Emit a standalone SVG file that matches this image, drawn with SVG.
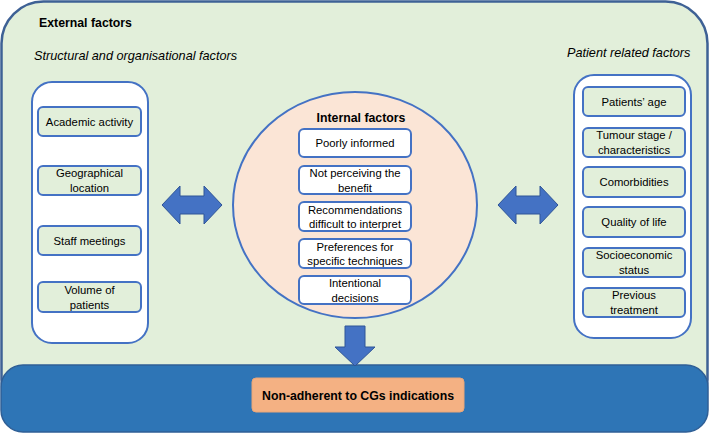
<svg xmlns="http://www.w3.org/2000/svg" width="710" height="434" viewBox="0 0 710 434">
<style>
  text { font-family: "Liberation Sans", Arial, sans-serif; fill: #000; }
  .h { font-weight: bold; font-size: 12.3px; }
  .it { font-style: italic; font-size: 12.7px; }
  .t { font-size: 11.3px; text-anchor: middle; }
  .panel { fill: #ffffff; stroke: #4472c4; stroke-width: 2; }
  .gbox { fill: #e2efda; stroke: #4472c4; stroke-width: 2; }
  .wbox { fill: #ffffff; stroke: #4472c4; stroke-width: 2; }
  .arrow { fill: #4472c4; stroke: #2f5597; stroke-width: 1; }
</style>

<g id="external">
  <rect x="1.5" y="1.5" width="706" height="420" rx="42" fill="#e2efda" stroke="#3e6195" stroke-width="2.5"/>
  <text class="h" x="39" y="27">External factors</text>
  <text class="it" x="34" y="60">Structural and organisational factors</text>
  <text class="it" x="567" y="57">Patient related factors</text>
</g>

<g id="outcome">
  <rect x="1" y="365" width="707" height="67" rx="22" fill="#2e75b6" stroke="#2f5f96" stroke-width="1.5"/>
  <rect x="252" y="378" width="212" height="34" rx="4" fill="#f4b183" stroke="#e9a678" stroke-width="1"/>
  <text class="h" x="358" y="399.5" text-anchor="middle">Non-adherent to CGs indications</text>
</g>

<g id="structural">
  <rect class="panel" x="32" y="82" width="116" height="261" rx="20"/>
  <g id="s1"><rect class="gbox" x="38" y="107" width="103" height="29" rx="5"/><text class="t" x="89.5" y="125.5">Academic activity</text></g>
  <g id="s2"><rect class="gbox" x="38" y="166" width="103" height="29" rx="5"/><text class="t" x="89.5" y="177">Geographical</text><text class="t" x="89.5" y="192">location</text></g>
  <g id="s3"><rect class="gbox" x="38" y="226" width="103" height="29" rx="5"/><text class="t" x="89.5" y="244.5">Staff meetings</text></g>
  <g id="s4"><rect class="gbox" x="38" y="282" width="103" height="30" rx="5"/><text class="t" x="89.5" y="293.5">Volume of</text><text class="t" x="89.5" y="308.5">patients</text></g>
</g>

<g id="patient">
  <rect class="panel" x="574" y="75" width="117" height="263" rx="20"/>
  <g id="p1"><rect class="gbox" x="583" y="87" width="102" height="29" rx="5"/><text class="t" x="634" y="105.5">Patients’ age</text></g>
  <g id="p2"><rect class="gbox" x="583" y="128" width="102" height="29" rx="5"/><text class="t" x="634" y="139">Tumour stage /</text><text class="t" x="634" y="154">characteristics</text></g>
  <g id="p3"><rect class="gbox" x="583" y="167" width="102" height="30" rx="5"/><text class="t" x="634" y="186">Comorbidities</text></g>
  <g id="p4"><rect class="gbox" x="583" y="207" width="102" height="30" rx="5"/><text class="t" x="634" y="226">Quality of life</text></g>
  <g id="p5"><rect class="gbox" x="583" y="248" width="102" height="29" rx="5"/><text class="t" x="634" y="259">Socioeconomic</text><text class="t" x="634" y="274">status</text></g>
  <g id="p6"><rect class="gbox" x="583" y="288" width="102" height="29" rx="5"/><text class="t" x="634" y="299">Previous</text><text class="t" x="634" y="314">treatment</text></g>
</g>

<g id="internal">
  <ellipse cx="355" cy="205" rx="122" ry="113" fill="#fbe5d6" stroke="#4472c4" stroke-width="2"/>
  <text class="h" x="361" y="122" text-anchor="middle">Internal factors</text>
  <g id="i1"><rect class="wbox" x="299" y="129" width="112" height="28" rx="5"/><text class="t" x="355" y="147">Poorly informed</text></g>
  <g id="i2"><rect class="wbox" x="299" y="166" width="112" height="28" rx="5"/><text class="t" x="355" y="177">Not perceiving the</text><text class="t" x="355" y="191.5">benefit</text></g>
  <g id="i3"><rect class="wbox" x="299" y="202" width="112" height="29" rx="5"/><text class="t" x="355" y="213.5">Recommendations</text><text class="t" x="355" y="228">difficult to interpret</text></g>
  <g id="i4"><rect class="wbox" x="299" y="239" width="112" height="29" rx="5"/><text class="t" x="355" y="250.5">Preferences for</text><text class="t" x="355" y="265">specific techniques</text></g>
  <g id="i5"><rect class="wbox" x="299" y="276" width="112" height="28" rx="5"/><text class="t" x="355" y="287">Intentional</text><text class="t" x="355" y="301.5">decisions</text></g>
</g>

<g id="connectors">
  <path class="arrow" d="M162,205 L180,186 L180,196 L204,196 L204,186 L222,205 L204,224 L204,214 L180,214 L180,224 Z"/>
  <path class="arrow" d="M498,205 L516,186 L516,196 L540,196 L540,186 L558,205 L540,224 L540,214 L516,214 L516,224 Z"/>
  <path class="arrow" d="M345,326 L365,326 L365,347 L375,347 L355,366 L335,347 L345,347 Z"/>
</g>
</svg>
